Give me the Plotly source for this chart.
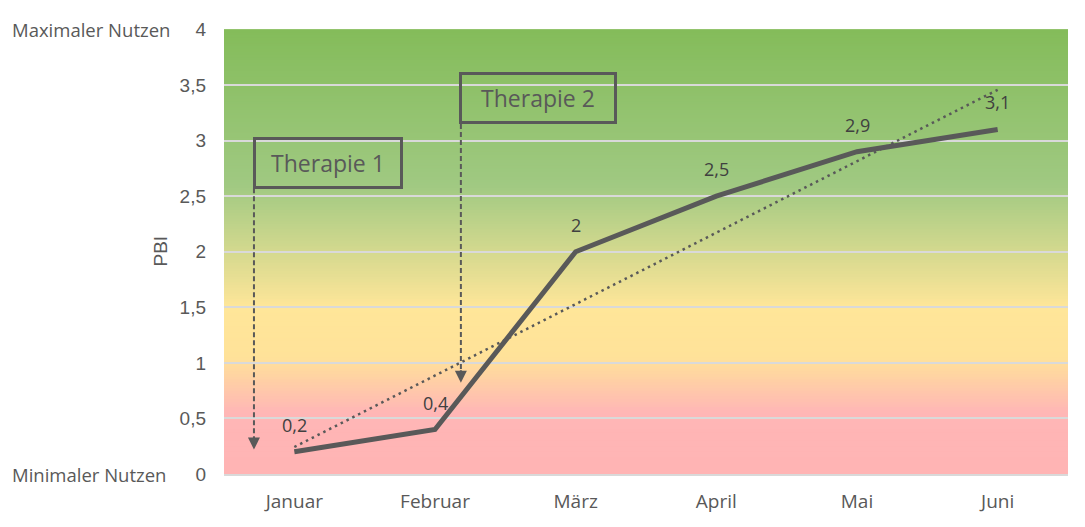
import numpy as np
import plotly.graph_objects as go

# ---- data ----
months = ["Januar", "Februar", "März", "April", "Mai", "Juni"]
pbi = [0.2, 0.4, 2.0, 2.5, 2.9, 3.1]
pbi_labels = ["0,2", "0,4", "2", "2,5", "2,9", "3,1"]
y_ticks = [0, 0.5, 1, 1.5, 2, 2.5, 3, 3.5, 4]
therapies = ["Therapie 1", "Therapie 2"]
therapy_box_x = [0.24, 1.735]      # box centres (category units)
therapy_box_y = [2.80, 3.385]      # box centres (PBI units)
therapy_box_w = [144, 152]
therapy_arrow_x = [-0.287, 1.184]  # arrow positions (category units)
therapy_arrow_top = [2.57, 3.15]
therapy_arrow_tip = [0.22, 0.82]

GREY = "#595959"
GRID = "#d9d9d9"

# linear trend line (like Excel trendline) from the data
xi = np.arange(len(months))
slope, intercept = np.polyfit(xi, pbi, 1)
trend = slope * xi + intercept

fig = go.Figure()

# background gradient
stops = [(0.0, (255, 180, 180)), (0.55, (255, 182, 182)), (1.05, (255, 226, 153)),
         (1.5, (255, 230, 153)), (2.6, (160, 201, 130)), (4.0, (132, 188, 90))]
sv = [s[0] for s in stops]
n = 160
step = 4.0 / n
shapes = []
for i in range(n):
    y0 = step * i
    ym = y0 + step / 2
    rgb = [int(round(np.interp(ym, sv, [s[1][k] for s in stops]))) for k in range(3)]
    y1 = min(4.0, y0 + 3 * step)
    shapes.append(dict(type="rect", xref="x domain", yref="y", x0=0, x1=1,
                       y0=y0, y1=y1, line=dict(width=0),
                       fillcolor=f"rgb({rgb[0]},{rgb[1]},{rgb[2]})", layer="below"))

# dashed therapy arrows (shafts)
for ax_, yt, yb in zip(therapy_arrow_x, therapy_arrow_top, therapy_arrow_tip):
    shapes.append(dict(type="line", xref="x", yref="y", x0=ax_, x1=ax_, y0=yt, y1=yb + 0.08,
                       line=dict(color=GREY, width=2, dash="5px,3px"), layer="above"))

fig.add_trace(go.Scatter(x=months, y=trend, mode="lines",
                         line=dict(color=GREY, width=2.5, dash="2.5px,4px"),
                         hoverinfo="skip", showlegend=False))
fig.add_trace(go.Scatter(x=months, y=pbi, mode="lines",
                         line=dict(color=GREY, width=5),
                         showlegend=False))

annotations = []
for m, v, t in zip(months, pbi, pbi_labels):
    annotations.append(dict(x=m, y=v, text=t, showarrow=False, yshift=27,
                            font=dict(family="Open Sans", size=18, color="#404040")))

for name, bx, by, bw in zip(therapies, therapy_box_x, therapy_box_y, therapy_box_w):
    annotations.append(dict(x=bx, y=by, xref="x", yref="y", text=name, showarrow=False,
                            font=dict(family="Open Sans", size=23, color=GREY),
                            bordercolor=GREY, borderwidth=3, borderpad=0,
                            width=bw, height=46, xanchor="center", yanchor="middle"))

for ax_, yb in zip(therapy_arrow_x, therapy_arrow_tip):
    annotations.append(dict(x=ax_, y=yb, xref="x", yref="y", text="", showarrow=True,
                            ax=0, ay=-14, arrowhead=2, arrowsize=1.2, arrowwidth=2,
                            arrowcolor=GREY, standoff=0))

annotations.append(dict(x=0, y=1, xref="paper", yref="paper", xshift=-214,
                        text="Maximaler Nutzen", showarrow=False, xanchor="left",
                        yanchor="middle", font=dict(family="Open Sans", size=18.5, color=GREY)))
annotations.append(dict(x=0, y=0, xref="paper", yref="paper", xshift=-214,
                        text="Minimaler Nutzen", showarrow=False, xanchor="left",
                        yanchor="middle", font=dict(family="Open Sans", size=18.5, color=GREY)))
annotations.append(dict(x=0, y=0.5, xref="paper", yref="paper", xshift=-64,
                        text="PBI", showarrow=False, textangle=-90, xanchor="center",
                        yanchor="middle", font=dict(family="Liberation Sans", size=19, color=GREY)))

fig.update_layout(
    width=1085, height=527,
    margin=dict(l=216, r=25, t=21, b=61),
    paper_bgcolor="white", plot_bgcolor="white",
    separators=",.",
    shapes=shapes, annotations=annotations,
    xaxis=dict(type="category", range=[-0.5, 5.5], showgrid=False, zeroline=False,
               showline=True, linecolor=GRID, linewidth=2,
               tickfont=dict(family="Open Sans", size=19, color=GREY),
               ticks="", ticklabelstandoff=9, fixedrange=True),
    yaxis=dict(range=[0, 4.004], tickvals=y_ticks, showgrid=True, gridcolor=GRID,
               gridwidth=2, zeroline=False,
               tickfont=dict(family="Liberation Sans", size=19, color=GREY),
               ticks="", ticklabelstandoff=17, fixedrange=True),
)

fig.write_html("out.html")
